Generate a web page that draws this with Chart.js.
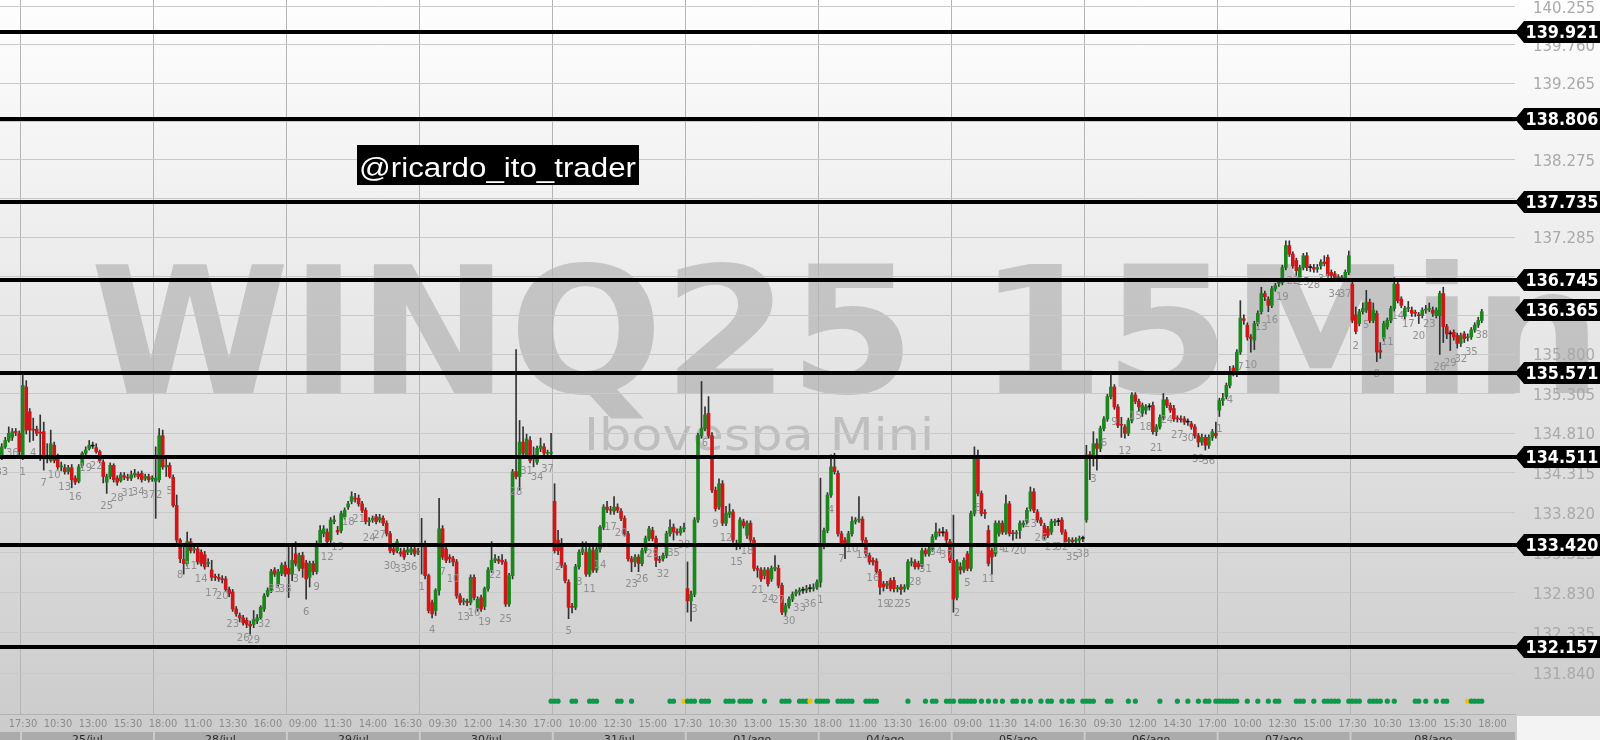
<!DOCTYPE html>
<html>
<head>
<meta charset="utf-8">
<script src="https://cdn.jsdelivr.net/npm/chart.js@4.4.0/dist/chart.umd.min.js"></script>
<style>
html, body { margin: 0; padding: 0; background: #fff; overflow: hidden; }
canvas { display: block; }
</style>
</head>
<body>
<canvas id="myChart" width="1600" height="740"></canvas>
<script>
// candles per day: [open, high, low, close]
var d0724 = [
  [134.52,134.68,134.48,134.64],[134.64,134.76,134.62,134.72],[134.72,134.89,134.70,134.81],
  [134.76,134.87,134.72,134.83],[134.83,134.87,134.78,134.82],[134.81,134.84,134.52,134.58]
];
var d0725 = [
  [134.52,135.57,134.48,135.41],[135.39,135.47,134.80,134.85],[135.08,135.12,134.70,134.85],
  [134.86,135.00,134.72,134.85],[134.86,134.90,134.78,134.81],[134.82,135.04,134.47,134.81],
  [134.83,134.95,134.35,134.49],[134.49,134.68,134.44,134.50],[134.47,134.85,134.45,134.68],
  [134.66,134.70,134.44,134.47],[134.52,134.55,134.36,134.39],[134.39,134.45,134.34,134.40],
  [134.38,134.42,134.30,134.33],[134.33,134.41,134.30,134.38],[134.38,134.42,134.13,134.23],
  [134.25,134.28,134.17,134.20],[134.21,134.42,134.19,134.39],[134.41,134.58,134.38,134.56],
  [134.56,134.64,134.53,134.60],[134.62,134.72,134.60,134.66],[134.65,134.70,134.62,134.65],
  [134.63,134.68,134.56,134.58],[134.58,134.60,134.44,134.47],[134.45,134.48,134.19,134.27],
  [134.20,134.30,134.06,134.27],[134.27,134.44,134.24,134.41],[134.41,134.43,134.20,134.23],
  [134.25,134.28,134.16,134.20],[134.22,134.32,134.20,134.29],[134.28,134.32,134.23,134.26],
  [134.26,134.30,134.22,134.25],[134.25,134.34,134.22,134.29],[134.29,134.36,134.26,134.31],
  [134.30,134.33,134.24,134.27],[134.31,134.34,134.20,134.23],[134.25,134.30,134.22,134.27],
  [134.27,134.30,134.20,134.23],[134.24,134.28,134.21,134.25]
];
var d0728 = [
  [134.21,134.64,133.75,134.25],[134.23,134.87,134.20,134.78],[134.78,134.85,134.36,134.39],
  [134.39,134.50,134.27,134.41],[134.41,134.44,134.25,134.27],[134.26,134.29,133.89,133.91],
  [133.91,134.04,133.45,133.48],[133.48,133.50,133.20,133.25],[133.24,133.40,133.06,133.19],
  [133.19,133.58,133.16,133.46],[133.46,133.50,133.32,133.35],[133.36,133.42,133.32,133.37],
  [133.37,133.40,133.18,133.21],[133.33,133.36,133.16,133.19],[133.30,133.34,133.12,133.15],
  [133.19,133.25,133.15,133.20],[133.11,133.23,132.98,133.02],[133.03,133.06,132.98,133.02],
  [133.02,133.06,132.97,133.00],[133.00,133.04,132.95,132.99],[133.00,133.03,132.85,132.87],
  [132.87,132.90,132.78,132.82],[132.84,132.87,132.60,132.63],[132.63,132.66,132.54,132.57],
  [132.55,132.58,132.47,132.52],[132.52,132.55,132.43,132.46],[132.49,132.52,132.40,132.44],
  [132.44,132.48,132.32,132.42],[132.44,132.61,132.40,132.50],[132.48,132.56,132.45,132.52],
  [132.52,132.67,132.50,132.65],[132.63,132.82,132.60,132.79],[132.80,132.89,132.78,132.86],
  [132.86,133.12,132.83,133.09],[133.11,133.14,133.03,133.06],[132.94,133.12,132.91,133.09],
  [133.07,133.20,133.04,133.17],[133.17,133.21,133.03,133.06]
];
var d0729 = [
  [133.13,133.42,132.77,133.06],[133.06,133.40,132.98,133.23],[133.31,133.46,133.16,133.19],
  [133.13,133.32,133.10,133.29],[133.29,133.33,133.02,133.13],[133.20,133.23,132.75,133.00],
  [133.02,133.22,132.90,133.19],[133.19,133.22,133.05,133.09],[133.09,133.47,133.06,133.44],
  [133.44,133.66,133.40,133.60],[133.56,133.66,133.52,133.62],[133.58,133.62,133.43,133.46],
  [133.48,133.76,133.45,133.73],[133.71,133.78,133.68,133.73],[133.60,133.65,133.55,133.58],
  [133.60,133.84,133.57,133.81],[133.77,133.88,133.74,133.85],[133.89,133.96,133.86,133.93],
  [133.96,134.08,133.93,134.02],[134.00,134.06,133.95,133.99],[134.00,134.04,133.90,133.93],
  [133.93,133.96,133.82,133.85],[133.85,133.88,133.68,133.71],[133.71,133.76,133.66,133.72],
  [133.73,133.78,133.70,133.75],[133.77,133.80,133.68,133.71],[133.73,133.80,133.70,133.76],
  [133.75,133.78,133.66,133.69],[133.69,133.72,133.53,133.56],[133.56,133.59,133.32,133.35],
  [133.37,133.40,133.30,133.33],[133.35,133.49,133.32,133.46],[133.33,133.38,133.28,133.31],
  [133.35,133.38,133.24,133.27],[133.33,133.40,133.30,133.36],[133.33,133.40,133.30,133.37],
  [133.37,133.40,133.28,133.31],[133.33,133.38,133.30,133.34]
];
var d0730 = [
  [133.40,133.75,133.06,133.44],[133.44,133.47,133.00,133.04],[133.04,133.06,132.58,132.61],
  [132.71,132.74,132.52,132.57],[132.61,132.88,132.55,132.86],[132.86,134.00,132.80,133.62],
  [133.62,133.66,133.24,133.27],[133.37,133.40,133.20,133.23],[133.27,133.30,133.20,133.25],
  [133.25,133.28,133.16,133.21],[133.21,133.24,132.76,132.79],[132.79,132.82,132.68,132.71],
  [132.72,132.76,132.68,132.73],[132.72,132.75,132.67,132.71],[132.71,133.05,132.68,133.02],
  [133.02,133.05,132.74,132.77],[132.63,132.78,132.60,132.75],[132.77,132.80,132.60,132.63],
  [132.66,132.90,132.62,132.88],[132.88,133.14,132.85,133.11],[133.11,133.46,133.08,133.23],
  [133.23,133.30,133.20,133.25],[133.24,133.28,133.19,133.22],[133.23,133.30,133.18,133.21],
  [133.21,133.24,132.66,132.69],[132.69,133.07,132.66,133.04],[133.04,134.36,133.00,134.33],
  [134.33,135.86,134.24,134.27],[134.27,134.97,134.10,134.70],[134.70,134.89,134.50,134.56],
  [134.54,134.80,134.50,134.74],[134.72,134.77,134.44,134.47],[134.50,134.64,134.39,134.49],
  [134.45,134.65,134.42,134.62],[134.62,134.75,134.58,134.65],[134.64,134.68,134.53,134.56],
  [134.56,134.60,134.52,134.57],[134.56,134.81,134.53,134.57]
];
var d0731 = [
  [133.96,134.18,133.32,133.35],[133.48,133.60,133.30,133.35],[133.40,133.50,133.14,133.17],
  [133.17,133.20,132.95,132.98],[132.96,132.99,132.51,132.65],[132.66,132.70,132.58,132.65],
  [132.65,133.18,132.62,133.15],[133.15,133.36,133.12,133.33],[133.33,133.46,133.30,133.37],
  [133.33,133.46,133.03,133.06],[133.06,133.40,133.03,133.37],[133.35,133.40,133.08,133.11],
  [133.11,133.40,133.08,133.37],[133.37,133.66,133.33,133.64],[133.64,133.92,133.61,133.89],
  [133.89,133.96,133.82,133.86],[133.86,133.90,133.80,133.85],[133.84,134.02,133.80,133.89],
  [133.89,133.93,133.82,133.85],[133.84,133.87,133.72,133.75],[133.75,133.78,133.53,133.56],
  [133.56,133.59,133.22,133.25],[133.25,133.28,133.09,133.21],[133.21,133.30,133.15,133.27],
  [133.27,133.30,133.09,133.19],[133.19,133.38,133.16,133.35],[133.35,133.53,133.32,133.50],
  [133.50,133.65,133.47,133.62],[133.60,133.64,133.47,133.50],[133.50,133.53,133.15,133.23],
  [133.24,133.28,133.20,133.23],[133.25,133.32,133.22,133.29],[133.29,133.59,133.26,133.56],
  [133.56,133.73,133.53,133.64],[133.64,133.68,133.48,133.58],[133.58,133.62,133.54,133.57],
  [133.57,133.65,133.54,133.62],[133.62,133.69,133.58,133.63]
];
var d0801 = [
  [132.88,133.21,132.59,132.73],[132.73,132.85,132.48,132.81],[132.81,133.76,132.78,133.73],
  [133.73,134.81,133.70,134.78],[134.78,135.46,134.75,134.87],[134.87,135.14,134.84,135.04],
  [135.06,135.27,134.75,134.78],[134.78,134.82,134.07,134.10],[134.10,134.14,133.84,133.87],
  [133.89,134.24,133.86,134.18],[134.18,134.22,133.66,133.69],[133.69,133.90,133.66,133.81],
  [133.80,133.93,133.76,133.83],[133.83,133.86,133.45,133.48],[133.44,133.48,133.36,133.40],
  [133.40,133.76,133.37,133.73],[133.71,133.74,133.63,133.66],[133.54,133.72,133.50,133.69],
  [133.69,133.72,133.45,133.48],[133.48,133.51,133.10,133.13],[133.13,133.16,133.02,133.11],
  [133.11,133.14,132.97,133.00],[133.04,133.14,133.00,133.11],[133.11,133.14,132.91,132.94],
  [133.00,133.16,132.97,133.13],[133.13,133.29,133.10,133.14],[133.13,133.17,132.89,132.92],
  [132.92,132.95,132.56,132.59],[132.59,132.70,132.55,132.67],[132.67,132.78,132.64,132.75],
  [132.75,132.84,132.72,132.81],[132.82,132.87,132.79,132.84],[132.84,132.89,132.80,132.86],
  [132.86,132.90,132.82,132.86],[132.86,132.92,132.83,132.88],[132.88,132.93,132.84,132.88],
  [132.88,132.94,132.85,132.89],[132.90,132.99,132.87,132.96]
];
var d0804 = [
  [132.96,134.25,132.90,133.40],[133.40,133.63,133.37,133.60],[133.60,134.07,133.57,134.04],
  [134.04,134.54,134.01,134.39],[134.39,134.56,134.30,134.33],[134.31,134.34,133.53,133.56],
  [133.56,133.59,133.40,133.44],[133.48,133.51,133.25,133.42],[133.45,133.59,133.42,133.56],
  [133.56,133.77,133.53,133.71],[133.71,133.76,133.68,133.73],[133.73,134.02,133.70,133.74],
  [133.74,133.77,133.45,133.48],[133.48,133.51,133.28,133.31],[133.29,133.32,133.18,133.21],
  [133.23,133.26,133.17,133.21],[133.22,133.25,133.06,133.09],[133.09,133.12,132.81,132.90],
  [132.94,132.97,132.85,132.90],[132.92,132.97,132.88,132.94],[132.98,133.01,132.85,132.88],
  [132.98,133.02,132.84,132.88],[132.88,132.92,132.84,132.89],[132.90,132.93,132.81,132.87],
  [132.88,132.93,132.84,132.90],[132.90,133.24,132.87,133.21],[133.20,133.26,133.16,133.21],
  [133.21,133.24,133.12,133.15],[133.19,133.22,133.12,133.15],[133.16,133.38,133.13,133.35],
  [133.35,133.38,133.28,133.31],[133.31,133.40,133.28,133.37],[133.37,133.55,133.34,133.52],
  [133.52,133.69,133.49,133.58],[133.58,133.62,133.53,133.57],[133.57,133.64,133.53,133.57],
  [133.58,133.61,133.45,133.48],[133.46,133.49,133.20,133.23]
];
var d0805 = [
  [133.23,133.79,132.59,132.75],[132.77,133.24,132.74,133.21],[133.15,133.20,133.06,133.11],
  [133.11,133.26,133.08,133.23],[133.31,133.34,133.10,133.13],[133.13,133.84,133.10,133.81],
  [133.81,134.64,133.78,134.49],[134.49,134.60,134.03,134.06],[134.06,134.09,133.78,133.81],
  [133.82,133.86,133.75,133.81],[133.60,133.66,133.16,133.19],[133.35,133.38,133.06,133.27],
  [133.31,133.72,133.28,133.69],[133.56,133.72,133.53,133.69],[133.69,133.72,133.55,133.58],
  [133.58,134.04,133.55,133.93],[133.93,133.96,133.53,133.56],[133.57,133.60,133.48,133.56],
  [133.56,133.60,133.50,133.57],[133.60,133.72,133.50,133.69],[133.67,133.72,133.64,133.69],
  [133.71,133.88,133.68,133.85],[133.87,134.14,133.84,134.08],[134.08,134.12,133.82,133.85],
  [133.83,133.86,133.70,133.73],[133.73,133.76,133.66,133.69],[133.66,133.69,133.49,133.52],
  [133.62,133.65,133.51,133.54],[133.58,133.74,133.55,133.71],[133.70,133.74,133.66,133.71],
  [133.71,133.75,133.66,133.71],[133.73,133.76,133.55,133.58],[133.58,133.61,133.43,133.46],
  [133.47,133.51,133.43,133.48],[133.48,133.51,133.43,133.46],[133.47,133.51,133.44,133.48],
  [133.48,133.53,133.45,133.50],[133.50,133.53,133.46,133.50]
];
var d0806 = [
  [133.73,134.66,133.70,134.54],[134.54,134.58,134.23,134.53],[134.52,134.83,134.40,134.68],
  [134.68,134.74,134.35,134.62],[134.62,134.90,134.58,134.87],[134.87,135.02,134.84,134.99],
  [134.99,135.30,134.96,135.27],[135.27,135.54,135.24,135.39],[135.39,135.42,135.11,135.14],
  [135.14,135.17,134.88,134.91],[134.92,135.01,134.76,134.91],[134.89,134.92,134.75,134.81],
  [134.81,135.00,134.78,134.97],[134.97,135.32,134.94,135.29],[135.29,135.32,135.18,135.21],
  [135.21,135.24,135.08,135.14],[135.06,135.19,135.02,135.16],[135.10,135.17,135.05,135.14],
  [135.14,135.18,135.10,135.14],[135.16,135.20,134.80,134.83],[134.83,134.92,134.78,134.89],
  [134.89,135.04,134.86,135.01],[135.01,135.31,134.98,135.23],[135.23,135.26,135.13,135.16],
  [135.16,135.19,135.07,135.10],[135.12,135.16,134.96,134.99],[135.00,135.03,134.95,134.99],
  [134.99,135.03,134.95,134.98],[134.99,135.02,134.92,134.95],[134.95,134.99,134.91,134.95],
  [134.93,134.96,134.86,134.89],[134.89,134.92,134.75,134.78],[134.78,134.81,134.64,134.70],
  [134.70,134.80,134.66,134.76],[134.76,134.79,134.60,134.66],[134.66,134.79,134.62,134.76],
  [134.76,134.86,134.72,134.83],[134.81,134.95,134.75,134.78]
];
var d0807 = [
  [135.10,135.25,135.02,135.22],[135.22,135.31,135.16,135.25],[135.27,135.44,135.24,135.41],
  [135.41,135.65,135.38,135.56],[135.63,135.66,135.53,135.56],[135.56,135.86,135.52,135.83],
  [135.83,136.48,135.80,136.26],[136.25,136.30,136.18,136.23],[136.17,136.20,135.98,136.02],
  [136.02,136.05,135.83,136.00],[135.98,136.22,135.86,136.19],[136.19,136.35,136.16,136.32],
  [136.34,136.65,136.31,136.57],[136.57,136.60,136.48,136.53],[136.50,136.53,136.34,136.42],
  [136.42,136.66,136.39,136.63],[136.63,136.70,136.60,136.67],[136.70,136.74,136.66,136.71],
  [136.71,136.93,136.68,136.90],[136.90,137.24,136.87,137.18],[137.18,137.24,137.04,137.07],
  [137.07,137.10,136.89,136.92],[136.99,137.02,136.80,136.86],[136.78,136.93,136.74,136.90],
  [136.90,137.08,136.87,137.05],[137.05,137.09,136.86,136.90],[136.90,136.94,136.85,136.90],
  [136.90,136.94,136.84,136.88],[136.88,136.94,136.84,136.90],[136.92,137.00,136.88,136.97],
  [136.97,137.05,136.92,136.95],[137.03,137.06,136.76,136.80],[136.84,136.87,136.76,136.80],
  [136.82,136.85,136.72,136.76],[136.77,136.81,136.73,136.78],[136.77,136.80,136.72,136.76],
  [136.76,136.87,136.73,136.84],[136.84,137.11,136.81,137.05]
];
var d0808 = [
  [136.69,136.72,136.20,136.23],[136.30,136.40,136.06,136.09],[136.19,136.37,136.16,136.34],
  [136.34,136.45,136.31,136.38],[136.36,136.61,136.33,136.46],[136.46,136.50,136.20,136.23],
  [136.23,136.45,136.20,136.36],[136.32,136.35,135.71,135.83],[135.85,135.95,135.75,135.83],
  [136.00,136.22,135.97,136.19],[136.15,136.26,136.12,136.23],[136.23,136.41,136.20,136.38],
  [136.38,136.77,136.35,136.69],[136.69,136.73,136.45,136.48],[136.50,136.53,136.39,136.42],
  [136.28,136.41,136.25,136.38],[136.38,136.47,136.34,136.39],[136.36,136.40,136.28,136.32],
  [136.33,136.36,136.28,136.32],[136.30,136.33,136.19,136.29],[136.29,136.39,136.26,136.36],
  [136.36,136.42,136.32,136.37],[136.37,136.45,136.34,136.38],[136.36,136.40,136.28,136.32],
  [136.29,136.39,136.26,136.36],[136.29,136.60,135.80,136.57],[136.57,136.65,135.95,136.15],
  [136.15,136.18,136.00,136.06],[136.06,136.10,135.85,136.06],[136.08,136.11,135.98,136.02],
  [136.04,136.07,135.88,135.94],[135.94,136.07,135.90,136.04],[136.06,136.09,135.95,136.00],
  [136.01,136.06,135.97,136.02],[136.02,136.14,135.99,136.11],[136.11,136.20,136.08,136.17],
  [136.17,136.27,136.14,136.23],[136.23,136.37,136.20,136.34]
];

var days = ['24/jul','25/jul','28/jul','29/jul','30/jul','31/jul','01/ago','04/ago','05/ago','06/ago','07/ago','08/ago'];
var dayCandles = [d0724, d0725, d0728, d0729, d0730, d0731, d0801, d0804, d0805, d0806, d0807, d0808];
var firstCandleNo = 33; // first visible candle of 24/jul
var emptySlots = 9;

var timeTicks = ['17:30','10:30','13:00','15:30','18:00','11:00','13:30','16:00','09:00','11:30','14:00','16:30',
  '09:30','12:00','14:30','17:00','10:00','12:30','15:00','17:30','10:30','13:00','15:30','18:00','11:00','13:30',
  '16:00','09:00','11:30','14:00','16:30','09:30','12:00','14:30','17:00','10:00','12:30','15:00','17:30','10:30',
  '13:00','15:30','18:00'];
var firstTickSlot = 2;

var yTicks = [131.840,132.335,132.830,133.325,133.820,134.315,134.810,135.305,135.800,136.295,136.790,
  137.285,137.780,138.275,138.770,139.265,139.760,140.255];
var levels = [139.921, 138.806, 137.735, 136.745, 135.571, 134.511, 133.420, 132.157];
var lastPrice = 136.365;

var dotSlots = [157,158,159,163,164,168,169,170,176,177,180,191,192,196,197,198,200,201,202,207,208,209,211,212,
  213,214,218,223,224,225,228,229,230,233,234,235,236,239,240,241,242,243,247,248,249,250,259,264,266,267,270,271,
  272,274,275,276,277,278,280,282,284,286,289,290,292,294,297,299,300,303,305,306,309,310,311,312,316,317,322,324,
  331,336,339,342,344,345,347,348,349,350,351,352,353,356,359,362,364,365,370,371,372,375,378,379,380,381,382,385,
  386,387,388,391,392,393,394,396,398,404,405,407,410,412,413,420,421,422,423];
var yellowSlots = [195, 231, 419];

var watermark = 'WINQ25 15Min';
var subtitle = 'Ibovespa Mini';
var handle = '@ricardo_ito_trader';

// flatten candles into slots
var candles = [];
var candleNo = [];
var dayStart = [];
dayCandles.forEach(function (d, di) {
    dayStart.push(candles.length);
    d.forEach(function (c, k) {
        candles.push(c);
        candleNo.push(di === 0 ? firstCandleNo + k : k + 1);
    });
});
var slotCount = candles.length + emptySlots;
var slots = [];
for (var i = 0; i < slotCount; i++) slots.push(String(i));

var bodyData = candles.map(function (c) { return [Math.min(c[0], c[3]), Math.max(c[0], c[3])]; });
var bodyColors = candles.map(function (c) { return c[3] > c[0] ? '#1b861b' : (c[3] < c[0] ? '#cf1717' : '#151515'); });
var wickData = candles.map(function (c) { return [c[2], c[1]]; });

var dotData = slots.map(function () { return null; });
var dotColors = slots.map(function () { return '#0a9a4a'; });
dotSlots.forEach(function (s) { dotData[s] = 0.018; });
yellowSlots.forEach(function (s) { dotData[s] = 0.018; dotColors[s] = '#f2c200'; });

var dayStartSet = {};
dayStart.slice(1).forEach(function (s) { dayStartSet[s] = true; });

var backgroundPlugin = {
    id: 'background',
    beforeDraw: function (chart) {
        var ctx = chart.ctx, a = chart.chartArea;
        ctx.save();
        var g = ctx.createLinearGradient(0, 0, 0, chart.height);
        g.addColorStop(0, '#fefefe');
        g.addColorStop(1, '#cbcbcb');
        ctx.fillStyle = g;
        ctx.fillRect(0, 0, chart.width, chart.height);
        ctx.fillStyle = '#f3f3f3';
        ctx.fillRect(a.right + 2, a.bottom + 2, chart.width - a.right, chart.height - a.bottom);

        ctx.fillStyle = 'rgba(140,140,140,0.4)';
        ctx.font = 'bold 176px "DejaVu Sans"';
        var w = ctx.measureText(watermark).width;
        ctx.translate(90, 393);
        ctx.scale(1512 / w, 1);
        ctx.fillText(watermark, 0, 0);
        ctx.restore();

        ctx.save();
        ctx.fillStyle = 'rgba(140,140,140,0.4)';
        ctx.font = '44px "DejaVu Sans"';
        w = ctx.measureText(subtitle).width;
        ctx.translate(584, 450);
        ctx.scale(350 / w, 1);
        ctx.fillText(subtitle, 0, 0);
        ctx.restore();
    },
    afterDatasetsDraw: function (chart) {
        var ctx = chart.ctx, xs = chart.scales.x, ys = chart.scales.y, a = chart.chartArea;
        ctx.save();
        // candle numbers
        ctx.fillStyle = '#8f8f8f';
        ctx.font = '10px "DejaVu Sans"';
        ctx.textAlign = 'center';
        ctx.textBaseline = 'top';
        for (var i = 0; i < candles.length; i++) {
            if (i % 3 !== 0) continue;
            ctx.fillText(String(candleNo[i]), xs.getPixelForValue(i), ys.getPixelForValue(candles[i][2]) + 8);
        }
        // level lines
        ctx.fillStyle = '#000';
        levels.forEach(function (v) {
            var y = Math.round(ys.getPixelForValue(v));
            ctx.fillRect(0, y - 2, a.right + 6, 4);
        });
        ctx.restore();
    },
    afterDraw: function (chart) {
        var ctx = chart.ctx, xs = chart.scales.x, ys = chart.scales.y, a = chart.chartArea;
        ctx.save();
        // day boxes
        var half = (xs.getPixelForValue(1) - xs.getPixelForValue(0)) / 2;
        ctx.font = '11px "DejaVu Sans"';
        ctx.textAlign = 'center';
        ctx.textBaseline = 'top';
        for (var d = 0; d < days.length; d++) {
            var x0 = d === 0 ? 0 : xs.getPixelForValue(dayStart[d]) - half + 1;
            var x1 = d + 1 < days.length ? xs.getPixelForValue(dayStart[d + 1]) - half - 1 : a.right;
            ctx.fillStyle = '#ababab';
            ctx.fillRect(x0, 732, x1 - x0, 8);
            if (d > 0) {
                ctx.fillStyle = '#2a2a2a';
                ctx.fillText(days[d], (x0 + x1) / 2, 735);
            }
        }
        // price tags
        ctx.font = 'bold 16px "DejaVu Sans"';
        ctx.textBaseline = 'middle';
        levels.concat([lastPrice]).forEach(function (v) {
            var y = Math.round(ys.getPixelForValue(v));
            ctx.fillStyle = '#000';
            ctx.beginPath();
            ctx.moveTo(a.right, y);
            ctx.lineTo(a.right + 9, y - 11);
            ctx.lineTo(chart.width, y - 11);
            ctx.lineTo(chart.width, y + 11);
            ctx.lineTo(a.right + 9, y + 11);
            ctx.closePath();
            ctx.fill();
            ctx.fillStyle = '#fff';
            ctx.save();
            ctx.translate((a.right + 9 + chart.width) / 2, y + 1);
            ctx.scale(1, 1.12);
            ctx.textAlign = 'center';
            ctx.fillText(v.toFixed(3), 0, 0);
            ctx.restore();
        });
        // handle box
        ctx.fillStyle = '#000';
        ctx.fillRect(357, 145, 282, 40);
        ctx.fillStyle = '#fff';
        ctx.font = '27px "Liberation Sans"';
        ctx.textAlign = 'left';
        ctx.textBaseline = 'alphabetic';
        var w = ctx.measureText(handle).width;
        ctx.translate(359, 177);
        ctx.scale(277 / w, 1);
        ctx.fillText(handle, 0, 0);
        ctx.restore();
    }
};

var ctx = document.getElementById("myChart");
var myChart = new Chart(ctx, {
    type: 'bar',
    data: {
        labels: slots,
        datasets: [{
            type: 'line',
            data: dotData,
            yAxisID: 'yd',
            showLine: false,
            pointRadius: 2.6,
            pointBorderWidth: 0,
            pointBackgroundColor: dotColors,
            order: 0
        }, {
            data: bodyData,
            backgroundColor: bodyColors,
            barThickness: 3,
            minBarLength: 1,
            grouped: false,
            order: 1
        }, {
            data: wickData,
            backgroundColor: '#333333',
            barThickness: 1,
            grouped: false,
            order: 2
        }]
    },
    plugins: [backgroundPlugin],
    options: {
        responsive: false,
        animation: false,
        events: [],
        layout: { padding: 0, autoPadding: false },
        plugins: {
            legend: { display: false },
            tooltip: { enabled: false }
        },
        scales: {
            x: {
                type: 'category',
                offset: true,
                afterFit: function (s) { s.height = 26; s.paddingLeft = 0; s.paddingRight = 0; },
                grid: {
                    offset: true,
                    drawTicks: false,
                    color: function (c) { return dayStartSet[c.index] ? '#b4b4b4' : 'rgba(0,0,0,0)'; }
                },
                border: { display: true, color: '#b2b2b2' },
                ticks: {
                    autoSkip: false,
                    maxRotation: 0,
                    minRotation: 0,
                    align: 'start',
                    padding: 4,
                    color: '#8c8c8c',
                    font: { family: '"Liberation Sans Narrow", "DejaVu Sans Condensed", "Liberation Sans"', size: 11 },
                    callback: function (v, i) {
                        var k = i - firstTickSlot;
                        return (k >= 0 && k % 10 === 0 && timeTicks[k / 10]) ? timeTicks[k / 10] : '';
                    }
                }
            },
            y: {
                type: 'logarithmic',
                position: 'right',
                min: 131.343,
                max: 140.342,
                bounds: 'data',
                afterBuildTicks: function (s) { s.ticks = yTicks.map(function (v) { return { value: v }; }); },
                afterFit: function (s) { s.width = 85; s.paddingTop = 0; s.paddingBottom = 0; },
                grid: { color: '#c9c9c9', drawTicks: false },
                border: { display: false },
                ticks: {
                    autoSkip: false,
                    padding: 18,
                    labelOffset: 2,
                    color: '#a9a9a9',
                    font: { family: '"DejaVu Sans"', size: 15 },
                    callback: function (v) { return Number(v).toFixed(3); }
                }
            },
            yd: {
                type: 'linear',
                display: false,
                min: 0,
                max: 1
            }
        }
    }
});
</script>
</body>
</html>
